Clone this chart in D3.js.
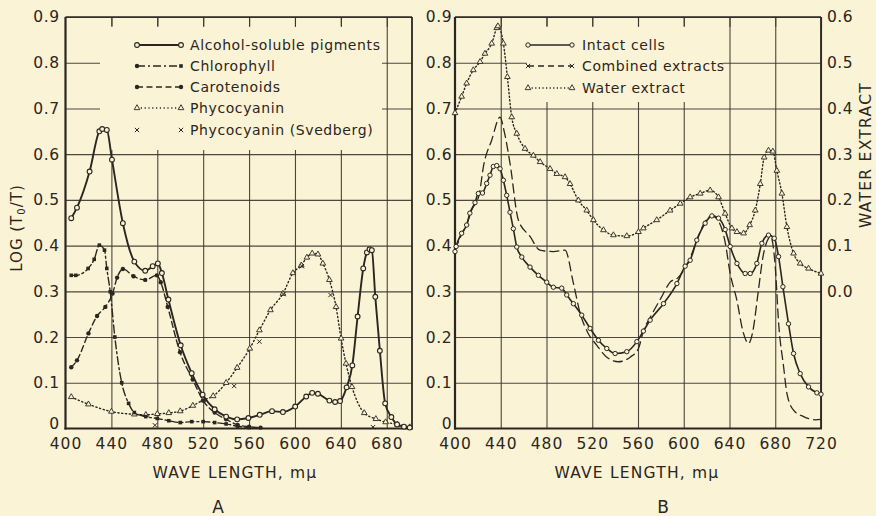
<!DOCTYPE html>
<html><head><meta charset="utf-8">
<script src="https://cdn.jsdelivr.net/npm/d3@7"></script>
<style>
body{margin:0;background:#fbf3d6;}
svg{display:block}
text{font-family:"DejaVu Sans",sans-serif;fill:#2b2620}
</style></head><body><svg id="c" width="876" height="516"></svg>
<script>
// ---------- DATA ----------
const xTicksA = [400,440,480,520,560,600,640,680];
const xTicksB = [400,440,480,520,560,600,640,680,720];
const yTicksLeft = [0,0.1,0.2,0.3,0.4,0.5,0.6,0.7,0.8,0.9];
const yTicksRight = [0,0.1,0.2,0.3,0.4,0.5,0.6];
const legendA = ["Alcohol-soluble pigments","Chlorophyll","Carotenoids","Phycocyanin","Phycocyanin   (Svedberg)"];
const legendB = ["Intact cells","Combined extracts","Water extract"];

// Panel A  [wavelength (mμ), log(T0/T)]
const alcohol = [[405,0.46],[410,0.483],[421,0.562],[429.5,0.65],[432,0.655],[436,0.653],[440.5,0.588],[450,0.449],[460,0.365],[469.5,0.345],[476,0.355],[480.5,0.361],[484,0.34],[489.7,0.282],[500.4,0.182],[510,0.121],[519.5,0.074],[530,0.042],[540,0.026],[549.6,0.02],[559.4,0.023],[569.3,0.03],[580,0.038],[589.5,0.036],[600.2,0.048],[609.8,0.07],[615,0.078],[620,0.076],[630,0.061],[635,0.058],[639.3,0.06],[645,0.09],[650,0.138],[654.6,0.245],[659.5,0.35],[662.7,0.385],[665,0.392],[667,0.39],[670,0.288],[674,0.17],[678.6,0.055],[684,0.025],[689,0.009],[695,0.004],[700,0.002]];
const chlorophyll = [[405,0.335],[409,0.335],[419.7,0.35],[425,0.37],[429.5,0.401],[434,0.39],[436,0.35],[439,0.299],[443,0.2],[449,0.1],[455,0.055],[460,0.035],[470,0.026],[480,0.022],[490,0.017],[500,0.013],[510,0.015],[520,0.015],[530,0.013],[540,0.01],[550,0.005],[560,0.002]];
const carotenoids = [[405,0.134],[410,0.149],[420,0.208],[427.5,0.246],[434.7,0.266],[441,0.295],[445,0.33],[450,0.349],[459.3,0.333],[469.5,0.325],[479.6,0.335],[483,0.32],[489.1,0.266],[499.8,0.167],[510.9,0.107],[520,0.061],[530,0.035],[540,0.02],[550,0.008],[560,0.004],[570,0.002]];
const phycocyanin = [[405,0.069],[420,0.053],[440,0.037],[460,0.031],[470,0.03],[480,0.032],[490,0.034],[500,0.038],[511,0.05],[520,0.062],[528.7,0.071],[540,0.1],[549.6,0.133],[560.6,0.175],[569,0.215],[578.6,0.259],[589.5,0.295],[598.2,0.34],[605.5,0.357],[610.4,0.374],[615,0.383],[620,0.381],[624.3,0.361],[630,0.325],[635.8,0.266],[640.2,0.197],[644.5,0.142],[649.7,0.091],[660.4,0.034],[670.5,0.021],[679,0.014],[689.3,0.009],[700,0.003]];
const svedberg = [[478,0.007],[547,0.093],[569,0.19],[590,0.294],[606,0.355],[631,0.292],[668,0.003]];

// Panel B
const intact = [[400,0.387],[401,0.398],[405.8,0.427],[410.2,0.445],[413,0.471],[417.5,0.494],[420.4,0.514],[424,0.515],[427.7,0.536],[430.6,0.554],[433.5,0.573],[436.5,0.575],[439.4,0.568],[442.3,0.543],[445.2,0.51],[448.1,0.473],[451,0.437],[454,0.397],[458.4,0.375],[465.6,0.353],[472.9,0.335],[480.2,0.32],[486,0.309],[493.3,0.307],[497.7,0.292],[503.5,0.273],[510.8,0.248],[518.1,0.219],[525.4,0.193],[532.7,0.175],[540,0.164],[550.2,0.168],[559,0.19],[564.7,0.213],[570.6,0.237],[582.3,0.273],[594,0.317],[601.2,0.355],[605.6,0.368],[611.4,0.412],[618.7,0.449],[624.6,0.465],[630.4,0.46],[636.2,0.435],[640.6,0.398],[646.5,0.361],[653.7,0.339],[658.1,0.339],[663.9,0.361],[668.3,0.405],[674.1,0.423],[679.1,0.416],[682.9,0.376],[686.7,0.31],[691.6,0.229],[696,0.164],[701.8,0.12],[709.1,0.091],[716.4,0.078],[720,0.075]];
const combined = [[400,0.39],[405,0.42],[410,0.445],[415,0.48],[421,0.51],[425,0.575],[432,0.63],[439.4,0.681],[443,0.65],[448.1,0.58],[455.4,0.456],[465.6,0.42],[474.3,0.39],[486,0.387],[496.2,0.39],[503.5,0.318],[509.4,0.252],[516,0.21],[524,0.182],[532.7,0.156],[542.9,0.146],[553.1,0.156],[560.4,0.175],[564.9,0.215],[570,0.24],[580,0.285],[588.1,0.32],[595,0.33],[605,0.37],[612,0.415],[618,0.45],[624.6,0.465],[630,0.455],[636,0.41],[640.6,0.339],[646.5,0.28],[651.6,0.214],[656.7,0.186],[660.5,0.214],[664.9,0.295],[669.3,0.376],[674.1,0.416],[676,0.42],[680,0.354],[683,0.229],[687.3,0.135],[690.2,0.077],[696,0.04],[704.8,0.026],[715,0.019],[720,0.02]];
// water extract, right-hand scale
const water = [[400,0.39],[405.8,0.426],[410.2,0.455],[416,0.484],[421.9,0.502],[426.2,0.52],[432.1,0.542],[436.5,0.576],[437.5,0.58],[442.3,0.542],[445.8,0.469],[449.6,0.381],[454,0.345],[461.2,0.312],[468.5,0.297],[474.4,0.283],[483.1,0.268],[489,0.257],[496.2,0.25],[500.6,0.235],[507.9,0.199],[515.2,0.177],[521,0.156],[529.8,0.134],[538.5,0.123],[550.2,0.121],[560.4,0.13],[564.7,0.138],[576.4,0.156],[588.1,0.177],[596.9,0.192],[605.6,0.206],[614.4,0.214],[623.1,0.221],[630.4,0.206],[636.2,0.17],[642.1,0.138],[646.5,0.13],[652.3,0.127],[657.6,0.145],[662.5,0.177],[666.9,0.235],[670.3,0.293],[674.1,0.308],[677.9,0.306],[681.4,0.264],[685.8,0.214],[690.2,0.141],[696,0.083],[701.8,0.061],[709.1,0.05],[720,0.039]];

// ---------- DRAW ----------
const INK="#2b2620", BG="#fbf3d6", GRID="#3a342c";
const svg=d3.select("#c");
svg.append("rect").attr("width",876).attr("height",516).attr("fill",BG);
const T=17, Bt=428.5;
const xA=d3.scaleLinear([400,702],[65.5,412]);
const xB=d3.scaleLinear([400,720],[455,821]);
const yL=d3.scaleLinear([0,0.9],[Bt,T]);
const yR=d3.scaleLinear([-0.3,0.6],[Bt,T]);
const fmtL=d=>d===0?"0":d3.format(".1f")(d);

function styleGrid(s){s.select(".domain").remove();s.selectAll("line").attr("stroke",GRID).attr("stroke-width",1.1).attr("opacity",0.9);}

function panel(x,xt,mask,labelPad){
  const x0=x.range()[0], x1=x.range()[1];
  const g=svg.append("g");
  g.append("g").attr("transform",`translate(0,${Bt})`)
   .call(d3.axisBottom(x).tickValues(xt.slice(1)).tickSize(-(Bt-T)).tickFormat(""))
   .call(styleGrid);
  g.append("g").attr("transform",`translate(${x0},0)`)
   .call(d3.axisLeft(yL).tickValues(yTicksLeft.slice(1)).tickSize(-(x1-x0)).tickFormat(""))
   .call(styleGrid);
  g.append("rect").attr("x",mask[0]).attr("y",mask[1]).attr("width",mask[2]-mask[0]).attr("height",mask[3]-mask[1]).attr("fill",BG);
  g.append("g").attr("transform",`translate(0,${T})`)
   .call(d3.axisTop(x).tickValues(xt.slice(1)).tickSize(-10).tickFormat(""))
   .call(styleGrid);
  // frame
  g.append("line").attr("x1",x0).attr("x2",x1).attr("y1",T).attr("y2",T).attr("stroke",INK).attr("stroke-width",1.4);
  g.append("line").attr("x1",x1).attr("x2",x1).attr("y1",T).attr("y2",Bt).attr("stroke",INK).attr("stroke-width",1.8);
  g.append("line").attr("x1",x0).attr("x2",x0).attr("y1",T).attr("y2",Bt+1).attr("stroke",INK).attr("stroke-width",2.2);
  g.append("line").attr("x1",x0-1).attr("x2",x1+1).attr("y1",Bt).attr("y2",Bt).attr("stroke",INK).attr("stroke-width",2.2);
  // labels
  g.append("g").attr("transform",`translate(0,${Bt})`)
   .call(d3.axisBottom(x).tickValues(xt).tickSize(0).tickPadding(9.5))
   .call(s=>{s.select(".domain").remove();s.selectAll("text").attr("font-size",15.5).attr("letter-spacing",1).attr("font-family","DejaVu Sans").attr("fill",INK);});
  g.append("g").attr("transform",`translate(${x0},0)`)
   .call(d3.axisLeft(yL).tickValues(yTicksLeft).tickSize(0).tickPadding(labelPad).tickFormat(fmtL))
   .call(s=>{s.select(".domain").remove();
     s.selectAll("text").attr("font-size",15.5).attr("letter-spacing",0.5).attr("font-family","DejaVu Sans").attr("fill",INK)
      .attr("transform",d=>d===0?"translate(0,-4.5)":null);});
  return g;
}
const gA=panel(xA,xTicksA,[100,26,382,150],6);
const gB=panel(xB,xTicksB,[527,26,723,102],3);

// right axis labels
svg.append("g").attr("transform",`translate(821,0)`)
 .call(d3.axisRight(yR).tickValues(yTicksRight).tickSize(0).tickPadding(6).tickFormat(d3.format(".1f")))
 .call(s=>{s.select(".domain").remove();s.selectAll("text").attr("font-size",15.5).attr("letter-spacing",0.5).attr("font-family","DejaVu Sans").attr("fill",INK);});

// titles
[235,637].forEach(cx=>{
  svg.append("text").attr("x",cx).attr("y",478).attr("text-anchor","middle").attr("font-size",15.5).attr("letter-spacing",1.2).text("WAVE LENGTH, mμ");
});
svg.append("text").attr("x",218).attr("y",513).attr("text-anchor","middle").attr("font-family","Liberation Serif").attr("font-size",17).text("A");
svg.append("text").attr("x",663).attr("y",513).attr("text-anchor","middle").attr("font-family","Liberation Serif").attr("font-size",17).text("B");
const yl=svg.append("text").attr("transform","translate(17,228) rotate(-90)").attr("text-anchor","middle").attr("dominant-baseline","central").attr("font-size",15).attr("letter-spacing",1);
yl.append("tspan").text("LOG (T");
yl.append("tspan").attr("font-size",10).attr("dy",4).text("0");
yl.append("tspan").attr("dy",-4).text("/T)");
svg.append("text").attr("transform","translate(866,155) rotate(-90)").attr("text-anchor","middle").attr("dominant-baseline","central").attr("font-size",15.5).attr("letter-spacing",1.3).text("WATER EXTRACT");

// markers
function marker(g,type,cx,cy){
  if(type==="circle") g.append("circle").attr("cx",cx).attr("cy",cy).attr("r",2.4).attr("fill",BG).attr("stroke",INK).attr("stroke-width",1.1);
  else if(type==="smallcircle") g.append("circle").attr("cx",cx).attr("cy",cy).attr("r",2.2).attr("fill",BG).attr("stroke",INK).attr("stroke-width",1);
  else if(type==="dot") g.append("circle").attr("cx",cx).attr("cy",cy).attr("r",2.2).attr("fill",INK);
  else if(type==="square") g.append("rect").attr("x",cx-1.8).attr("y",cy-1.8).attr("width",3.6).attr("height",3.6).attr("fill",INK);
  else if(type==="tri") g.append("path").attr("d",d3.symbol(d3.symbolTriangle,14)()).attr("transform",`translate(${cx},${cy})`).attr("fill",BG).attr("stroke",INK).attr("stroke-width",0.9);
  else if(type==="cross") g.append("path").attr("d",d3.symbol(d3.symbolX,14)()).attr("transform",`translate(${cx},${cy})`).attr("fill","none").attr("stroke",INK).attr("stroke-width",1);
}
function series(x,y,data,dash,width,mk){
  const g=svg.append("g");
  if(dash!==null){
    g.append("path").datum(data).attr("d",d3.line().x(d=>x(d[0])).y(d=>y(d[1])).curve(d3.curveMonotoneX))
     .attr("fill","none").attr("stroke",INK).attr("stroke-width",width).attr("stroke-dasharray",dash||null).attr("stroke-linecap","round");
  }
  if(mk) data.forEach(d=>marker(g,mk,x(d[0]),y(d[1])));
}
series(xA,yL,phycocyanin,"1.2,2.6",1.4,"tri");
series(xA,yL,chlorophyll,"8,3,2,3",1.4,"square");
series(xA,yL,carotenoids,"6,3.5",1.4,"dot");
series(xA,yL,alcohol,"",1.9,"circle");
series(xA,yL,svedberg,null,0,"cross");

series(xB,yR,water,"1.2,2.4",1.4,"tri");
series(xB,yL,combined,"9,5",1.3,null);
series(xB,yL,intact,"",1.6,"smallcircle");

// legends
function legend(items,x1,x2,tx,ys,styles){
  items.forEach((t,i)=>{
    const st=styles[i], g=svg.append("g"), y=ys[i];
    if(st.dash!==null) g.append("line").attr("x1",x1).attr("x2",x2).attr("y1",y).attr("y2",y).attr("stroke",INK).attr("stroke-width",st.w).attr("stroke-dasharray",st.dash||null);
    marker(g,st.m1,x1,y); marker(g,st.m2,x2,y);
    g.append("text").attr("x",tx).attr("y",y).attr("dominant-baseline","central").attr("font-size",14).attr("letter-spacing",0.6).text(t);
  });
}
legend(legendA,137,181,190,[45,66,87,108,130],[
  {dash:"",w:1.9,m1:"circle",m2:"circle"},
  {dash:"8,3,2,3",w:1.4,m1:"dot",m2:"square"},
  {dash:"6,3.5",w:1.4,m1:"dot",m2:"dot"},
  {dash:"1.2,2.6",w:1.4,m1:"tri",m2:"tri"},
  {dash:null,w:0,m1:"cross",m2:"cross"}]);
legend(legendB,528,572,582,[45,66,88],[
  {dash:"",w:1.6,m1:"smallcircle",m2:"smallcircle"},
  {dash:"6,4",w:1.3,m1:"cross",m2:"cross"},
  {dash:"1.2,2.4",w:1.4,m1:"tri",m2:"tri"}]);
</script></body></html>
